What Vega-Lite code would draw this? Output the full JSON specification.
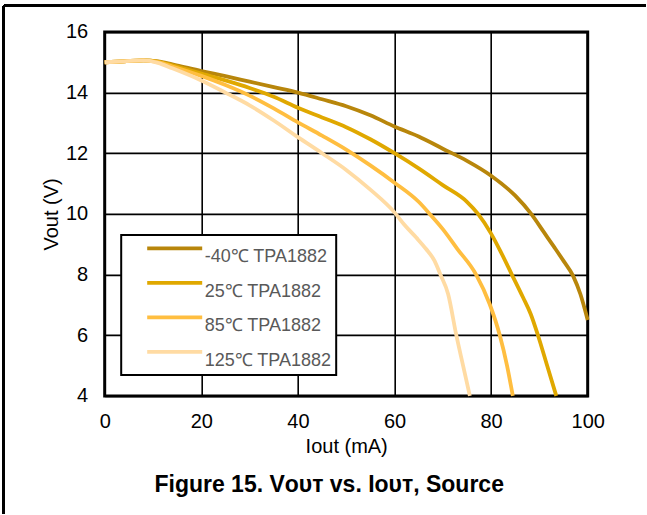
{
  "$schema": "https://vega.github.io/schema/vega-lite/v6.json",
  "width": 483,
  "height": 364,
  "padding": {"left": 2.7, "top": 3.9, "right": 0, "bottom": 0},
  "background": "white",
  "title": {
    "text": "Figure 15. Vᴏᴜᴛ vs. Iᴏᴜᴛ, Source",
    "orient": "bottom",
    "anchor": "middle",
    "frame": "group",
    "dx": -17,
    "offset": -41,
    "font": "Liberation Sans, DejaVu Sans",
    "fontSize": 23,
    "fontWeight": "bold",
    "color": "#000000"
  },
  "config": {
    "view": {"stroke": "#000000", "strokeWidth": 3},
    "font": "Liberation Sans",
    "axis": {"labelFont": "Liberation Sans", "titleFont": "Liberation Sans"},
    "legend": {
      "orient": "none",
      "legendX": 16.5,
      "legendY": 203,
      "strokeColor": "#000000",
      "strokeWidth": 2,
      "fillColor": "#ffffff",
      "padding": 4.5,
      "symbolType": "M-1,0H10",
      "symbolSize": 100,
      "symbolStrokeWidth": 3.8,
      "symbolOffset": 17.5,
      "labelOffset": 43.5,
      "labelBaseline": "top",
      "labelFont": "Liberation Sans",
      "labelFontSize": 18,
      "labelColor": "#595959",
      "labelLimit": 0,
      "rowPadding": 7.5
    }
  },
  "data": {
    "values": [
      {"s": "-40℃ TPA1882", "i": 0, "v": 15.0},
      {"s": "-40℃ TPA1882", "i": 4, "v": 15.03},
      {"s": "-40℃ TPA1882", "i": 8, "v": 15.06},
      {"s": "-40℃ TPA1882", "i": 11, "v": 15.03},
      {"s": "-40℃ TPA1882", "i": 14, "v": 14.93},
      {"s": "-40℃ TPA1882", "i": 20, "v": 14.71},
      {"s": "-40℃ TPA1882", "i": 25, "v": 14.54},
      {"s": "-40℃ TPA1882", "i": 30, "v": 14.36},
      {"s": "-40℃ TPA1882", "i": 35, "v": 14.18},
      {"s": "-40℃ TPA1882", "i": 40, "v": 14.0},
      {"s": "-40℃ TPA1882", "i": 45, "v": 13.78},
      {"s": "-40℃ TPA1882", "i": 50, "v": 13.55},
      {"s": "-40℃ TPA1882", "i": 55, "v": 13.25},
      {"s": "-40℃ TPA1882", "i": 60, "v": 12.88},
      {"s": "-40℃ TPA1882", "i": 65, "v": 12.55},
      {"s": "-40℃ TPA1882", "i": 70, "v": 12.15},
      {"s": "-40℃ TPA1882", "i": 75, "v": 11.75},
      {"s": "-40℃ TPA1882", "i": 80, "v": 11.26},
      {"s": "-40℃ TPA1882", "i": 85, "v": 10.6},
      {"s": "-40℃ TPA1882", "i": 88.3, "v": 10.0},
      {"s": "-40℃ TPA1882", "i": 91, "v": 9.38},
      {"s": "-40℃ TPA1882", "i": 93, "v": 8.92},
      {"s": "-40℃ TPA1882", "i": 95, "v": 8.45},
      {"s": "-40℃ TPA1882", "i": 97, "v": 7.95},
      {"s": "-40℃ TPA1882", "i": 98.5, "v": 7.35},
      {"s": "-40℃ TPA1882", "i": 100, "v": 6.5},
      {"s": "25℃ TPA1882", "i": 0, "v": 15.0},
      {"s": "25℃ TPA1882", "i": 4, "v": 15.03},
      {"s": "25℃ TPA1882", "i": 8, "v": 15.06},
      {"s": "25℃ TPA1882", "i": 11, "v": 15.02},
      {"s": "25℃ TPA1882", "i": 14, "v": 14.9},
      {"s": "25℃ TPA1882", "i": 20, "v": 14.63},
      {"s": "25℃ TPA1882", "i": 25, "v": 14.4},
      {"s": "25℃ TPA1882", "i": 30, "v": 14.15},
      {"s": "25℃ TPA1882", "i": 35, "v": 13.86},
      {"s": "25℃ TPA1882", "i": 40, "v": 13.5},
      {"s": "25℃ TPA1882", "i": 45, "v": 13.18},
      {"s": "25℃ TPA1882", "i": 50, "v": 12.86},
      {"s": "25℃ TPA1882", "i": 55, "v": 12.46},
      {"s": "25℃ TPA1882", "i": 60, "v": 12.0},
      {"s": "25℃ TPA1882", "i": 65, "v": 11.5},
      {"s": "25℃ TPA1882", "i": 70, "v": 10.95},
      {"s": "25℃ TPA1882", "i": 75, "v": 10.4},
      {"s": "25℃ TPA1882", "i": 77.3, "v": 10.0},
      {"s": "25℃ TPA1882", "i": 80, "v": 9.35},
      {"s": "25℃ TPA1882", "i": 82, "v": 8.75},
      {"s": "25℃ TPA1882", "i": 84.3, "v": 8.0},
      {"s": "25℃ TPA1882", "i": 86.6, "v": 7.25},
      {"s": "25℃ TPA1882", "i": 88.2, "v": 6.7},
      {"s": "25℃ TPA1882", "i": 89.7, "v": 6.0},
      {"s": "25℃ TPA1882", "i": 91.6, "v": 5.0},
      {"s": "25℃ TPA1882", "i": 93.5, "v": 4.0},
      {"s": "85℃ TPA1882", "i": 0, "v": 15.0},
      {"s": "85℃ TPA1882", "i": 4, "v": 15.03},
      {"s": "85℃ TPA1882", "i": 8, "v": 15.06},
      {"s": "85℃ TPA1882", "i": 11, "v": 15.0},
      {"s": "85℃ TPA1882", "i": 14, "v": 14.86},
      {"s": "85℃ TPA1882", "i": 20, "v": 14.55},
      {"s": "85℃ TPA1882", "i": 25, "v": 14.25},
      {"s": "85℃ TPA1882", "i": 30, "v": 13.9},
      {"s": "85℃ TPA1882", "i": 35, "v": 13.48},
      {"s": "85℃ TPA1882", "i": 40, "v": 13.02},
      {"s": "85℃ TPA1882", "i": 45, "v": 12.58},
      {"s": "85℃ TPA1882", "i": 50, "v": 12.12},
      {"s": "85℃ TPA1882", "i": 55, "v": 11.6},
      {"s": "85℃ TPA1882", "i": 60, "v": 11.03},
      {"s": "85℃ TPA1882", "i": 65, "v": 10.4},
      {"s": "85℃ TPA1882", "i": 67.3, "v": 10.0},
      {"s": "85℃ TPA1882", "i": 70, "v": 9.5},
      {"s": "85℃ TPA1882", "i": 73, "v": 8.85},
      {"s": "85℃ TPA1882", "i": 76.9, "v": 8.0},
      {"s": "85℃ TPA1882", "i": 79.7, "v": 7.03},
      {"s": "85℃ TPA1882", "i": 81.8, "v": 6.0},
      {"s": "85℃ TPA1882", "i": 83.3, "v": 5.0},
      {"s": "85℃ TPA1882", "i": 84.5, "v": 4.0},
      {"s": "125℃ TPA1882", "i": 0, "v": 15.0},
      {"s": "125℃ TPA1882", "i": 4, "v": 15.03},
      {"s": "125℃ TPA1882", "i": 8, "v": 15.06},
      {"s": "125℃ TPA1882", "i": 11, "v": 14.98},
      {"s": "125℃ TPA1882", "i": 14, "v": 14.8},
      {"s": "125℃ TPA1882", "i": 20, "v": 14.4},
      {"s": "125℃ TPA1882", "i": 25, "v": 14.0},
      {"s": "125℃ TPA1882", "i": 30, "v": 13.58},
      {"s": "125℃ TPA1882", "i": 35, "v": 13.08},
      {"s": "125℃ TPA1882", "i": 40, "v": 12.53},
      {"s": "125℃ TPA1882", "i": 45, "v": 12.0},
      {"s": "125℃ TPA1882", "i": 50, "v": 11.45},
      {"s": "125℃ TPA1882", "i": 55, "v": 10.8},
      {"s": "125℃ TPA1882", "i": 60, "v": 10.05},
      {"s": "125℃ TPA1882", "i": 62, "v": 9.65},
      {"s": "125℃ TPA1882", "i": 64.5, "v": 9.22},
      {"s": "125℃ TPA1882", "i": 66.5, "v": 8.85},
      {"s": "125℃ TPA1882", "i": 68.3, "v": 8.45},
      {"s": "125℃ TPA1882", "i": 69.5, "v": 8.0},
      {"s": "125℃ TPA1882", "i": 71.1, "v": 7.36},
      {"s": "125℃ TPA1882", "i": 72.8, "v": 6.0},
      {"s": "125℃ TPA1882", "i": 74.2, "v": 5.0},
      {"s": "125℃ TPA1882", "i": 75.6, "v": 4.0}
    ]
  },
  "layer": [
    {
      "mark": {"type": "rule", "color": "#000000", "strokeWidth": 2},
      "encoding": {
        "x": {"datum": -20.87, "type": "quantitative", "scale": {"domain": [0, 100], "nice": false, "zero": false}},
        "x2": {"datum": 111.9},
        "y": {"datum": 16.86, "type": "quantitative", "scale": {"domain": [4, 16], "nice": false, "zero": false}}
      }
    },
    {
      "mark": {"type": "rule", "color": "#000000", "strokeWidth": 2},
      "encoding": {
        "x": {"datum": -20.87, "type": "quantitative", "scale": {"domain": [0, 100], "nice": false, "zero": false}},
        "y": {"datum": 16.86, "type": "quantitative", "scale": {"domain": [4, 16], "nice": false, "zero": false}},
        "y2": {"datum": 0.108}
      }
    },
    {
      "mark": {"type": "line", "strokeWidth": 3.8, "interpolate": "monotone"},
      "encoding": {
        "x": {
          "field": "i",
          "type": "quantitative",
          "scale": {"domain": [0, 100], "nice": false, "zero": false},
          "axis": {
            "values": [0, 20, 40, 60, 80, 100],
            "title": "Iout (mA)",
            "grid": true,
            "gridColor": "#000000",
            "gridWidth": 1.6,
            "ticks": false,
            "domain": false,
            "labelFlush": false,
            "labelOverlap": false,
            "labelFontSize": 20,
            "labelColor": "#000000",
            "labelPadding": 16,
            "titleFontSize": 20,
            "titleFontWeight": "normal",
            "titleColor": "#000000",
            "titlePadding": 5
          }
        },
        "y": {
          "field": "v",
          "type": "quantitative",
          "scale": {"domain": [4, 16], "nice": false, "zero": false},
          "axis": {
            "values": [4, 6, 8, 10, 12, 14, 16],
            "title": "Vout (V)",
            "grid": true,
            "gridColor": "#000000",
            "gridWidth": 1.6,
            "ticks": false,
            "domain": false,
            "labelFlush": false,
            "labelOverlap": false,
            "labelFontSize": 20,
            "labelColor": "#000000",
            "labelPadding": 17,
            "titleFontSize": 20,
            "titleFontWeight": "normal",
            "titleColor": "#000000",
            "titlePadding": 4
          }
        },
        "color": {
          "field": "s",
          "type": "nominal",
          "scale": {
            "domain": ["-40℃ TPA1882", "25℃ TPA1882", "85℃ TPA1882", "125℃ TPA1882"],
            "range": ["#B8860B", "#E0A800", "#FFBE40", "#FFDBA3"]
          },
          "legend": {"title": null}
        }
      }
    }
  ]
}
